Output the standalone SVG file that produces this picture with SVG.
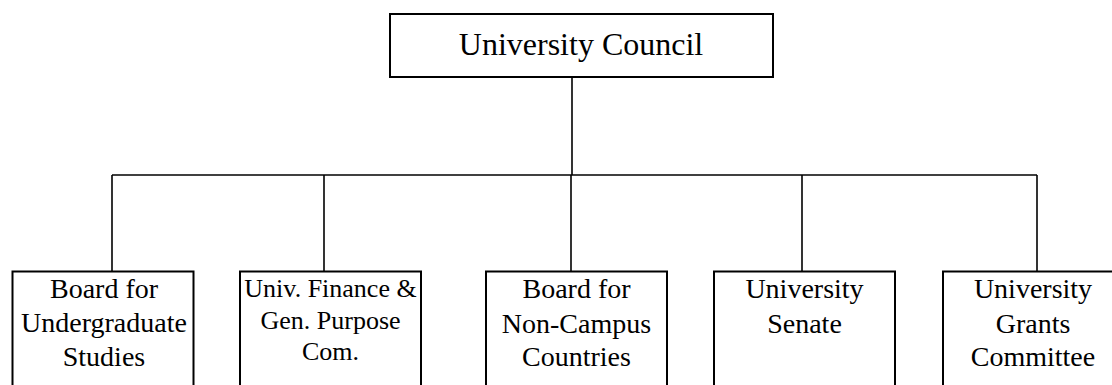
<svg xmlns="http://www.w3.org/2000/svg" width="1112" height="385" viewBox="0 0 1112 385">
<style>
.box{fill:#fff;stroke:#000;stroke-width:2}
text{font-family:'Liberation Serif','Times New Roman',Tinos,'DejaVu Serif',serif;fill:#000;text-anchor:middle}
.big{font-size:32px}
.mid{font-size:28px}
.sm{font-size:26px}
.con{fill:none;stroke:#000;stroke-width:1.6}
</style>
<rect width="1112" height="385" fill="#fff"/>
<g id="connectors">
<line class="con" x1="572" y1="77" x2="572" y2="175"/>
<line class="con" x1="112" y1="175" x2="1037" y2="175"/>
<line class="con" x1="112" y1="175" x2="112" y2="271"/>
<line class="con" x1="324" y1="175" x2="324" y2="271"/>
<line class="con" x1="571" y1="175" x2="571" y2="271"/>
<line class="con" x1="802" y1="175" x2="802" y2="271"/>
<line class="con" x1="1037" y1="175" x2="1037" y2="271"/>
</g>
<g id="council" font-family="Liberation Serif, Times New Roman, serif">
<rect class="box" x="390" y="14" width="383" height="63"/>
<text class="big" x="581" y="55">University Council</text>
</g>
<g id="undergrad">
<rect class="box" x="12.5" y="271.5" width="181" height="130"/>
<text class="mid" x="104" y="298">Board for</text>
<text class="mid" x="104" y="332">Undergraduate</text>
<text class="mid" x="104" y="365.5">Studies</text>
</g>
<g id="finance">
<rect class="box" x="240" y="271.5" width="181" height="130"/>
<text class="sm" x="330.5" y="297">Univ. Finance &amp;</text>
<text class="sm" x="330.5" y="328.5">Gen. Purpose</text>
<text class="sm" x="330.5" y="360">Com.</text>
</g>
<g id="noncampus">
<rect class="box" x="486" y="271.5" width="181" height="130"/>
<text class="mid" x="576.5" y="298">Board for</text>
<text class="mid" x="576.5" y="332.5">Non-Campus</text>
<text class="mid" x="576.5" y="365.5">Countries</text>
</g>
<g id="senate">
<rect class="box" x="714" y="271.5" width="181" height="130"/>
<text class="mid" x="804.5" y="298">University</text>
<text class="mid" x="804.5" y="333">Senate</text>
</g>
<g id="grants">
<rect class="box" x="943" y="271.5" width="181" height="130"/>
<text class="mid" x="1033" y="297.5">University</text>
<text class="mid" x="1033" y="332.5">Grants</text>
<text class="mid" x="1033" y="365.5">Committee</text>
</g>
</svg>
